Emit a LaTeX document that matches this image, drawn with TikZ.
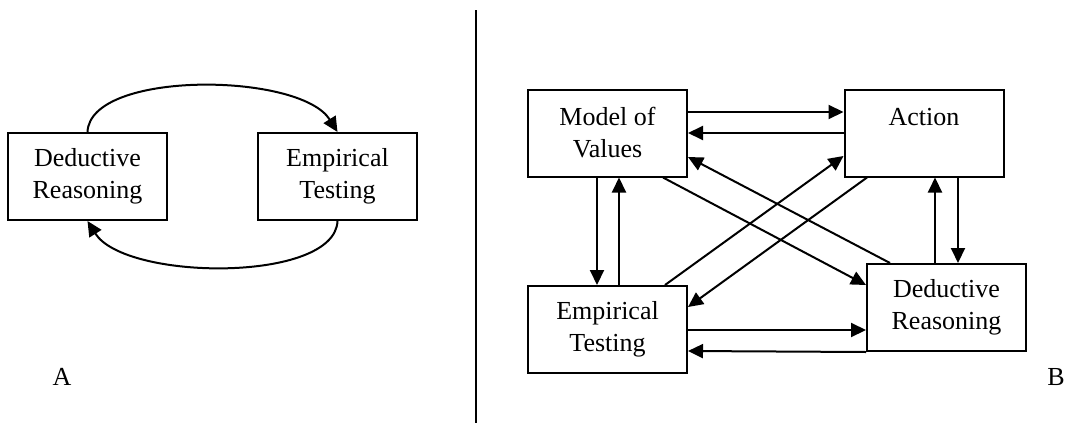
\documentclass[tikz,border=0pt]{standalone}
\usepackage{fontspec}
\setmainfont{Liberation Serif}
\usetikzlibrary{arrows.meta}
\begin{document}
\begin{tikzpicture}[x=1pt,y=-1pt,
  box/.style={draw,line width=2pt,minimum width=159pt,minimum height=87pt,
    inner sep=0pt,align=center,font=\fontsize{26}{32}\selectfont},
  lbl/.style={inner sep=0pt,font=\fontsize{26}{32}\selectfont},
  arr/.style={line width=2pt,-{Triangle[length=15pt,width=14pt]}},
  sep/.style={line width=2pt}]
\useasboundingbox (0,0) rectangle (1070,423);
% left panel
\node[box] (dl) at (87.5,176.5) {Deductive\\Reasoning};
\node[box] (el) at (337.5,176.5) {Empirical\\Testing};
\draw[arr] (dl.north) .. controls (90,70) and (300,72) .. (el.north);
\draw[arr] (el.south) .. controls (335,283) and (125,281) .. (dl.south);
\node[lbl] (la) at (62,377) {A};
% separator
\coordinate (st) at (476,10);
\coordinate (sb) at (476,423);
\draw[sep] (st) -- (sb);
% right panel
\node[box] (mv) at (607.5,133) {Model of\\Values};
\node[box] (ac) at (924,133) {Action\\~};
\node[box] (et) at (607.5,329.5) {Empirical\\Testing};
\node[box] (dr) at (946.5,307.5) {Deductive\\Reasoning};
\node[lbl] (lb) at (1056,377) {B};
\draw[arr] (mv.east |- 0,112) -- (ac.west |- 0,112);
\draw[arr] (ac.west |- 0,133) -- (mv.east |- 0,133);
\draw[arr] (mv.south -| 597,0) -- (et.north -| 597,0);
\draw[arr] (et.north -| 619,0) -- (mv.south -| 619,0);
\draw[arr] (ac.south -| 958,0) -- (dr.north -| 958,0);
\draw[arr] (dr.north -| 935,0) -- (ac.south -| 935,0);
\draw[arr] (et.east |- 0,330) -- (dr.west |- 0,330);
\draw[arr] (dr.south west) -- (et.east |- 0,351);
\draw[arr] (mv.south -| 663,0) -- (dr.west |- 0,285);
\draw[arr] (dr.north -| 890,0) -- (mv.east |- 0,157);
\draw[arr] (et.north -| 665,0) -- (ac.west |- 0,156);
\draw[arr] (ac.south -| 867,0) -- (et.east |- 0,307);
\end{tikzpicture}
\end{document}
